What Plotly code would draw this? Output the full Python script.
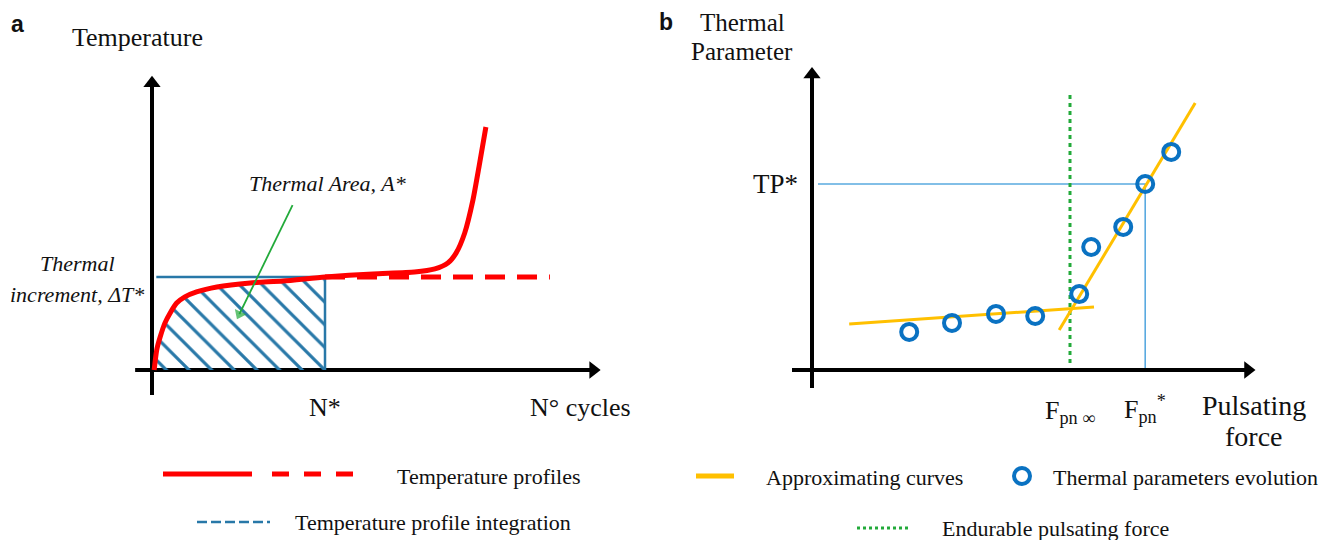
import plotly.graph_objects as go

W, H = 1337, 540

# ---------------- Panel a data (schematic units) ----------------
cycles = [0.05, 0.11, 0.19, 0.30, 0.42, 0.57, 0.76, 1.03, 1.50, 2.27, 3.03, 4.00,
          5.11, 6.07, 6.54, 6.84, 7.03, 7.23, 7.42, 7.56, 7.72]
temperature = [0.00, 0.65, 1.07, 1.52, 1.84, 2.16, 2.36, 2.52, 2.68, 2.81, 2.87, 3.00,
               3.10, 3.16, 3.26, 3.45, 3.77, 4.42, 5.48, 6.55, 7.84]
n_star = 4.0
dT_star = 3.0
dashed_end = 9.2
pointer_x = [3.25, 2.02]
pointer_y = [5.32, 1.80]

# ---------------- Panel b data (schematic units) ----------------
force = [2.43, 3.50, 4.60, 5.58, 6.68, 6.98, 7.78, 8.33, 8.98]
thermal_param = [1.27, 1.57, 1.87, 1.80, 2.53, 4.10, 4.77, 6.20, 7.27]
fit_low_x = [0.93, 7.05]
fit_low_y = [1.53, 2.10]
fit_high_x = [6.18, 9.58]
fit_high_y = [1.33, 8.90]
f_inf = 6.45
f_star = 8.33
tp_star = 6.20

SERIF = "Liberation Serif, Times New Roman, serif"
SANS = "Liberation Sans, Arial, sans-serif"
RED = "#FF0000"
BLUE = "#2878A8"
LBLUE = "#5AAAE0"
GREEN = "#22AA3A"
ORANGE = "#FFC000"
CBLUE = "#0A72C2"

fig = go.Figure()


def add(tr, panel):
    tr.update(xaxis="x" if panel == "a" else "x2", yaxis="y" if panel == "a" else "y2",
              hoverinfo="skip")
    fig.add_trace(tr)


# ---- axes with arrowheads (panel a) ----
add(go.Scatter(x=[0, 0], y=[-0.81, 9.25], mode="lines", line=dict(color="black", width=4)), "a")
add(go.Scatter(x=[0], y=[9.25], mode="markers",
               marker=dict(symbol="triangle-up", size=15, color="black")), "a")
add(go.Scatter(x=[-0.39, 10.2], y=[0, 0], mode="lines", line=dict(color="black", width=4)), "a")
add(go.Scatter(x=[10.2], y=[0], mode="markers",
               marker=dict(symbol="triangle-right", size=15, color="black")), "a")

# ---- panel a ----
idx = [i for i, c in enumerate(cycles) if c <= n_star]
add(go.Scatter(
    x=[cycles[i] for i in idx] + [n_star], y=[temperature[i] for i in idx] + [0],
    mode="lines", line=dict(width=0), fill="tozeroy", fillcolor="rgba(0,0,0,0)",
    fillpattern=dict(shape="\\", fgcolor=BLUE, bgcolor="rgba(255,255,255,0)",
                     size=16, solidity=0.2, fgopacity=1)), "a")
add(go.Scatter(x=[0.1, n_star, n_star], y=[dT_star, dT_star, 0],
               mode="lines", line=dict(color=BLUE, width=2.5)), "a")
add(go.Scatter(x=[n_star, dashed_end], y=[dT_star, dT_star], mode="lines",
               line=dict(color=RED, width=5, dash="20px,12px")), "a")
add(go.Scatter(x=cycles, y=temperature, mode="lines",
               line=dict(color=RED, width=5, shape="spline", smoothing=0.6)), "a")
add(go.Scatter(x=pointer_x, y=pointer_y, mode="lines+markers",
               line=dict(color=GREEN, width=1.8),
               marker=dict(symbol="triangle-up", size=[0, 11], color=GREEN, angleref="previous",
                           line=dict(width=0))), "a")

# ---- axes with arrowheads (panel b) ----
add(go.Scatter(x=[0, 0], y=[-0.6, 9.85], mode="lines", line=dict(color="black", width=4)), "b")
add(go.Scatter(x=[0], y=[9.85], mode="markers",
               marker=dict(symbol="triangle-up", size=15, color="black")), "b")
add(go.Scatter(x=[-0.5, 10.9], y=[0, 0], mode="lines", line=dict(color="black", width=4)), "b")
add(go.Scatter(x=[10.9], y=[0], mode="markers",
               marker=dict(symbol="triangle-right", size=15, color="black")), "b")

# ---- panel b ----
add(go.Scatter(x=[0.15, f_star, f_star], y=[tp_star, tp_star, 0.07], mode="lines",
               line=dict(color=LBLUE, width=1.6)), "b")
add(go.Scatter(x=[f_inf, f_inf], y=[0.23, 9.27], mode="lines",
               line=dict(color=GREEN, width=3, dash="4px,4px")), "b")
add(go.Scatter(x=fit_low_x, y=fit_low_y, mode="lines", line=dict(color=ORANGE, width=3)), "b")
add(go.Scatter(x=fit_high_x, y=fit_high_y, mode="lines", line=dict(color=ORANGE, width=3)), "b")
add(go.Scatter(x=force, y=thermal_param, mode="markers",
               marker=dict(symbol="circle-open", size=16, color=CBLUE,
                           line=dict(color=CBLUE, width=4))), "b")

ann = []


def txt(x, y, s, size=26, xref="paper", yref="paper", xanchor="center", italic=False,
        family=SERIF, weight="normal"):
    ann.append(dict(xref=xref, yref=yref, x=x, y=y, text=s, showarrow=False,
                    xanchor=xanchor, yanchor="middle",
                    font=dict(family=family, size=size, color="#111111",
                              style="italic" if italic else "normal", weight=weight)))


def px(x):
    return x / W


def py(y):
    return 1 - y / H


# texts panel a
txt(px(17), py(24), "a", size=23, family=SANS, weight="bold")
txt(px(137), py(37), "Temperature", size=26)
txt(px(327), py(183), "Thermal Area, A*", size=22, italic=True)
txt(px(77), py(263), "Thermal", size=22, italic=True)
txt(px(77), py(294), "increment, ΔT*", size=22, italic=True)
txt(n_star, -1.2, "N*", size=26, xref="x", yref="y")
txt(px(580), py(407), "N° cycles", size=26)

# texts panel b
txt(px(666), py(22), "b", size=23, family=SANS, weight="bold")
txt(px(742), py(22), "Thermal", size=25)
txt(px(742), py(51), "Parameter", size=25)
txt(px(800), tp_star, "TP*", size=27, yref="y2", xanchor="right")
txt(f_inf, -1.4, "F<sub>pn ∞</sub>", size=26, xref="x2", yref="y2")
txt(f_star, -1.3, "F<sub>pn</sub><sup>*</sup>", size=26, xref="x2", yref="y2")
txt(px(1254), py(405), "Pulsating", size=28)
txt(px(1254), py(436), "force", size=28)

# legend texts
txt(px(395), py(476), "Temperature profiles", size=22, xanchor="left")
txt(px(293), py(522), "Temperature profile integration", size=22, xanchor="left")
txt(px(764), py(477), "Approximating curves", size=22, xanchor="left")
txt(px(1051), py(477), "Thermal parameters evolution", size=22, xanchor="left")
txt(px(940), py(528), "Endurable pulsating force", size=22, xanchor="left")

shapes = [
    dict(type="line", xref="paper", yref="paper", x0=px(163), x1=px(252), y0=py(474), y1=py(474),
         line=dict(color=RED, width=5)),
    dict(type="line", xref="paper", yref="paper", x0=px(272), x1=px(354), y0=py(474), y1=py(474),
         line=dict(color=RED, width=5, dash="17px,15px")),
    dict(type="line", xref="paper", yref="paper", x0=px(197), x1=px(270), y0=py(522), y1=py(522),
         line=dict(color=BLUE, width=2.5, dash="10px,4px")),
    dict(type="line", xref="paper", yref="paper", x0=px(696), x1=px(734), y0=py(476), y1=py(476),
         line=dict(color=ORANGE, width=5)),
    dict(type="circle", xref="paper", yref="paper", x0=px(1014), x1=px(1030), y0=py(468), y1=py(484),
         line=dict(color=CBLUE, width=4)),
    dict(type="line", xref="paper", yref="paper", x0=px(857), x1=px(909), y0=py(528), y1=py(528),
         line=dict(color=GREEN, width=3, dash="3px,3px")),
]

fig.update_layout(
    width=W, height=H, margin=dict(l=0, r=0, t=0, b=0),
    paper_bgcolor="white", plot_bgcolor="white", showlegend=False,
    annotations=ann, shapes=shapes,
    xaxis=dict(domain=[0, 650 / W], range=[(0 - 152) / 43.25, (650 - 152) / 43.25], visible=False),
    yaxis=dict(domain=[0, 1], range=[(370 - 540) / 31, 370 / 31], visible=False),
    xaxis2=dict(domain=[668 / W, 1], range=[(668 - 812) / 40, (1337 - 812) / 40], visible=False),
    yaxis2=dict(domain=[0, 1], range=[(370 - 540) / 30, 370 / 30], visible=False, anchor="x2"),
)

fig.write_html("out.html")
